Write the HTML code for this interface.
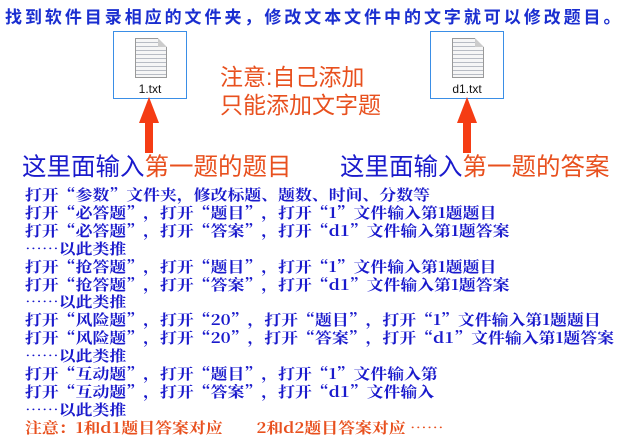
<html><head><style>
body{margin:0;width:622px;height:437px;background:#fff;position:relative;overflow:hidden;font-family:"Noto Serif CJK SC",serif}
.a{position:absolute;white-space:nowrap}
.box{position:absolute;border:1px solid #3a8ee6;width:72px;height:66px;top:31px}
.doc{position:absolute;left:21px;top:6px;width:30px;height:38px;background:repeating-linear-gradient(#f6f6f6 0 3px,#b8bcc4 3px 4px);border:1px solid #999}
.doc:after{content:"";position:absolute;right:-1px;top:-1px;border-style:solid;border-width:0 9px 9px 0;border-color:#fff #fff #ccc #ccc}
.fn{position:absolute;top:50px;width:72px;text-align:center;font:12px "Liberation Sans",sans-serif;color:#111}
.t{left:25px;top:186px;font-size:15px;color:#1a1acc;line-height:17.9px;font-weight:bold;transform:scaleX(1.125);transform-origin:0 0;font-family:"Noto Serif CJK SC","Liberation Serif",serif}
.s{font-family:"Liberation Sans","Noto Sans CJK SC",sans-serif}
</style></head><body>
<div class="a s" style="left:5px;top:3px;font-size:17px;letter-spacing:2.95px;color:#1a2ed0;font-weight:bold">找到软件目录相应的文件夹，修改文本文件中的文字就可以修改题目。</div>
<div class="box" style="left:113px"><div class="doc"></div><div class="fn">1.txt</div></div>
<div class="box" style="left:430px"><div class="doc"></div><div class="fn">d1.txt</div></div>
<svg class="a" style="left:0;top:0" width="622" height="160">
<polygon points="149,97 139,123 145,123 145,153 153,153 153,123 159,123" fill="#f53c14"/>
<polygon points="467,97 457,123 463,123 463,153 471,153 471,123 477,123" fill="#f53c14"/>
</svg>
<div class="a s" style="left:220px;top:58px;font-size:23px;color:#e8501e">注意:自己添加</div>
<div class="a s" style="left:220px;top:86px;font-size:23px;color:#e8501e">只能添加文字题</div>
<div class="a s" style="left:22px;top:148px;font-size:24.5px;color:#1a1acc">这里面输入<span style="color:#e8501e">第一题的题目</span></div>
<div class="a s" style="left:340px;top:148px;font-size:24.5px;color:#1a1acc">这里面输入<span style="color:#e8501e">第一题的答案</span></div>
<div class="a t">打开“参数”文件夹，修改标题、题数、时间、分数等<br>打开“必答题”，打开“题目”，打开“1”文件输入第1题题目<br>打开“必答题”，打开“答案”，打开“d1”文件输入第1题答案<br>……以此类推<br>打开“抢答题”，打开“题目”，打开“1”文件输入第1题题目<br>打开“抢答题”，打开“答案”，打开“d1”文件输入第1题答案<br>……以此类推<br>打开“风险题”，打开“20”，打开“题目”，打开“1”文件输入第1题题目<br>打开“风险题”，打开“20”，打开“答案”，打开“d1”文件输入第1题答案<br>……以此类推<br>打开“互动题”，打开“题目”，打开“1”文件输入第<br>打开“互动题”，打开“答案”，打开“d1”文件输入<br>……以此类推<br><span style="color:#e8501e">注意：1和d1题目答案对应　　2和d2题目答案对应 ……</span></div>
</body></html>
